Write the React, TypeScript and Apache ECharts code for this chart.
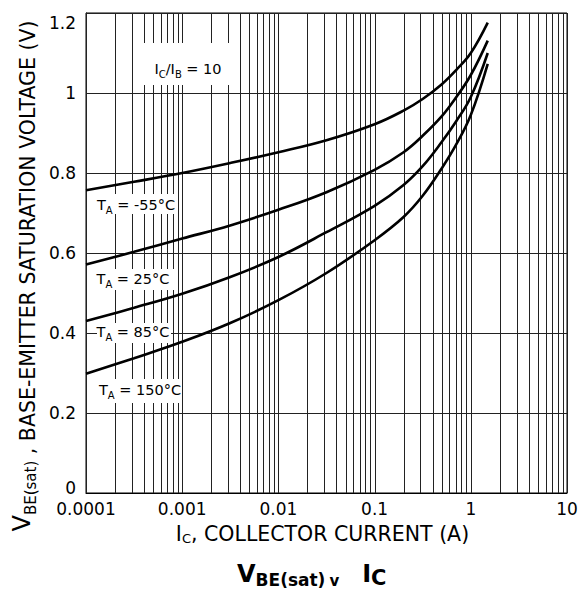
import React, { useEffect, useRef } from "react";
import * as echarts from "echarts";

// Collector current (A) sample points shared by all curves
const currentA = [0.0001, 0.000316, 0.001, 0.00316, 0.01, 0.0316, 0.1, 0.2, 0.316, 0.5, 0.708, 1.0, 1.5];
// VBE(sat) (V) for each ambient temperature
const vM55 = [0.757, 0.778, 0.8, 0.825, 0.852, 0.882, 0.922, 0.956, 0.985, 1.022, 1.058, 1.1, 1.176];
const v25 = [0.571, 0.603, 0.636, 0.669, 0.708, 0.752, 0.808, 0.852, 0.893, 0.942, 0.99, 1.045, 1.131];
const v85 = [0.43, 0.463, 0.498, 0.54, 0.59, 0.652, 0.718, 0.77, 0.817, 0.878, 0.93, 0.99, 1.1];
const v150 = [0.298, 0.337, 0.378, 0.425, 0.482, 0.55, 0.632, 0.69, 0.743, 0.812, 0.872, 0.945, 1.073];

const xTickLabels = ["0.0001", "0.001", "0.01", "0.1", "1", "10"];
const decades = [0.0001, 0.001, 0.01, 0.1, 1];
const tempLabels = ["-55°C", "25°C", "85°C", "150°C"];

const FONT = "DejaVu Sans";

export default function App() {
  const ref = useRef<HTMLDivElement>(null);
  useEffect(() => {
    const chart = echarts.init(ref.current!, null, { renderer: "svg" });

    const gridX: number[][] = [];
    decades.forEach((d) => {
      for (let m = 1; m <= 9; m++) gridX.push([d * m, 0]);
    });
    gridX.push([10, 0]);

    const curves = [vM55, v25, v85, v150];

    const labelRich = {
      t: { fontSize: 14.5, lineHeight: 20, fontFamily: FONT, color: "#000" },
      s: { fontSize: 10, lineHeight: 10, verticalAlign: "bottom", fontFamily: FONT, color: "#000" },
    };

    const boxes = [
      { x: 140, y: 43, w: 95, h: 42 },
      { x: 92, y: 194, w: 86, h: 20 },
      { x: 92, y: 269, w: 82, h: 21 },
      { x: 97, y: 323, w: 74, h: 20 },
      { x: 95, y: 379, w: 86, h: 24 },
    ];
    const texts = [
      { x: 188, y: 69, text: "{t|I}{s|C}{t|/I}{s|B}{t| = 10}" },
      { x: 136, y: 205, text: "{t|T}{s|A}{t| = " + tempLabels[0] + "}" },
      { x: 133, y: 279, text: "{t|T}{s|A}{t| = " + tempLabels[1] + "}" },
      { x: 133, y: 332, text: "{t|T}{s|A}{t| = " + tempLabels[2] + "}" },
      { x: 140, y: 390, text: "{t|T}{s|A}{t| = " + tempLabels[3] + "}" },
    ];

    const graphic: any[] = [];
    boxes.forEach((b) =>
      graphic.push({
        type: "rect",
        z: 5,
        shape: { x: b.x, y: b.y, width: b.w, height: b.h },
        style: { fill: "#fff" },
        silent: true,
      })
    );
    texts.forEach((t) =>
      graphic.push({
        type: "text",
        z: 6,
        x: t.x,
        y: t.y,
        style: {
          text: t.text,
          rich: labelRich,
          align: "center",
          verticalAlign: "middle",
          fill: "#000",
        },
        silent: true,
      })
    );

    chart.setOption({
      animation: false,
      backgroundColor: "#fff",
      title: {
        text: "{V|V}{s|BE(sat)}{v|v}{I|I}{c|C}",
        left: 237,
        top: 560,
        padding: 0,
        textStyle: {
          rich: {
            V: { fontSize: 24, fontWeight: "bold", lineHeight: 28, fontFamily: FONT, color: "#000" },
            s: { fontSize: 17, fontWeight: "bold", lineHeight: 14, verticalAlign: "bottom", fontFamily: FONT, color: "#000" },
            v: { fontSize: 15, fontWeight: "bold", lineHeight: 14, verticalAlign: "bottom", padding: [0, 23, 0, 4], fontFamily: FONT, color: "#000" },
            I: { fontSize: 24, fontWeight: "bold", lineHeight: 28, fontFamily: FONT, color: "#000" },
            c: { fontSize: 21, fontWeight: "bold", lineHeight: 17, verticalAlign: "bottom", fontFamily: FONT, color: "#000" },
          },
        },
      },
      grid: {
        left: 86,
        top: 13,
        right: 20,
        bottom: 104,
        show: true,
        borderColor: "#000",
        borderWidth: 1,
        backgroundColor: "#fff",
        containLabel: false,
        outerBoundsMode: "none",
      },
      xAxis: {
        type: "log",
        logBase: 10,
        min: 0.0001,
        max: 10,
        splitNumber: 5,
        name: "{n|I}{s|C}{n|, COLLECTOR CURRENT (A)}",
        nameLocation: "middle",
        nameGap: 30,
        nameTextStyle: {
          padding: [0, 8, 0, 0],
          rich: {
            n: { fontSize: 20.5, lineHeight: 22, fontFamily: FONT, color: "#000" },
            s: { fontSize: 13, lineHeight: 12, verticalAlign: "bottom", fontFamily: FONT, color: "#000" },
          },
        },
        axisLine: { show: true, lineStyle: { color: "#000", width: 1 } },
        axisTick: { show: false },
        splitLine: { show: false },
        axisLabel: {
          margin: 8,
          fontSize: 17,
          lineHeight: 16,
          fontFamily: FONT,
          color: "#000",
          formatter: (v: number) => {
            const i = Math.round(Math.log10(v)) + 4;
            return xTickLabels[i] ?? "";
          },
        },
      },
      yAxis: {
        type: "value",
        min: 0,
        max: 1.2,
        interval: 0.2,
        name: "{V|V}{s|BE(sat)}{n| , BASE-EMITTER SATURATION VOLTAGE (V)}",
        nameLocation: "middle",
        nameRotate: 90,
        nameGap: 48,
        nameTextStyle: {
          padding: [0, 46, 0, 0],
          rich: {
            V: { fontSize: 24, lineHeight: 28, verticalAlign: "top", fontFamily: FONT, color: "#000" },
            s: { fontSize: 15, lineHeight: 11, verticalAlign: "bottom", fontFamily: FONT, color: "#000" },
            n: { fontSize: 20.5, lineHeight: 20, verticalAlign: "bottom", fontFamily: FONT, color: "#000" },
          },
        },
        axisLine: { show: true, lineStyle: { color: "#000", width: 1 } },
        axisTick: { show: false },
        splitLine: { show: true, lineStyle: { color: "#222", width: 1 } },
        axisLabel: {
          margin: 10,
          fontSize: 17,
          lineHeight: 16,
          fontFamily: FONT,
          color: "#000",
          formatter: (v: number) => {
            const s = String(Math.round(v * 10) / 10);
            if (v >= 1.19) return "{hi|" + s + "}";
            if (v <= 0.01) return "{lo|" + s + "}";
            return s;
          },
          rich: {
            hi: { fontSize: 17, lineHeight: 16, padding: [20, 0, 0, 0], fontFamily: FONT, color: "#000" },
            lo: { fontSize: 17, lineHeight: 16, padding: [0, 0, 10, 0], fontFamily: FONT, color: "#000" },
          },
        },
      },
      graphic,
      series: [
        {
          type: "custom",
          z: 1,
          silent: true,
          clip: false,
          data: gridX,
          encode: { x: 0, y: 1 },
          renderItem: (_p: any, api: any) => {
            const x = api.value(0);
            const top = api.coord([x, 1.2]);
            const bot = api.coord([x, 0]);
            const px = Math.round(top[0]) + 0.5;
            return {
              type: "line",
              shape: { x1: px, y1: top[1], x2: px, y2: bot[1] },
              style: { stroke: "#222", lineWidth: 1 },
            };
          },
        },
        ...curves.map((vals, k) => ({
          type: "line",
          name: tempLabels[k],
          z: 10,
          showSymbol: false,
          smooth: 0.4,
          silent: true,
          data: currentA.map((c, i) => [c, vals[i]]),
          lineStyle: { color: "#000", width: 2.6 },
        })),
      ],
    });
    return () => chart.dispose();
  }, []);
  return <div ref={ref} style={{ position: "fixed", left: 0, top: 0, width: 587, height: 597 }} />;
}
